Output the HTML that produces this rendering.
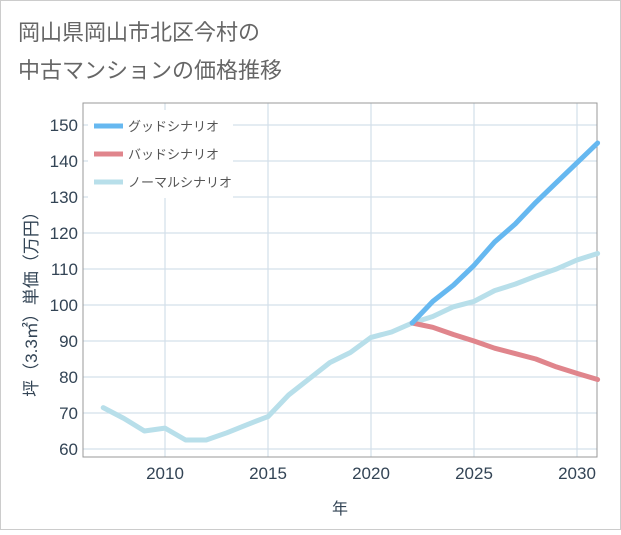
<!DOCTYPE html>
<html><head><meta charset="utf-8"><style>
body{margin:0;background:#fff;}
svg text{font-family:"Liberation Sans","Noto Sans CJK JP",sans-serif;}
</style></head><body>
<svg width="621" height="530" xmlns="http://www.w3.org/2000/svg">
<rect x="0.5" y="0.5" width="620" height="529" fill="#fff" stroke="#ccc"/>
<text x="18" y="40" font-size="22" fill="#666">岡山県岡山市北区今村の</text>
<text x="18" y="78" font-size="22" fill="#666">中古マンションの価格推移</text>
<g id="grid"></g>
<rect x="83" y="103" width="514" height="354" fill="none" stroke="#999"/>
<g id="axes"></g>
<g id="series"></g>
<rect x="88" y="110" width="145" height="88" fill="#fff"/>
<g>
<line x1="94" y1="126" x2="123" y2="126" stroke="#66b8f0" stroke-width="5"/>
<text x="128" y="131" font-size="13" fill="#555">グッドシナリオ</text>
<line x1="94" y1="154" x2="123" y2="154" stroke="#e0858c" stroke-width="5"/>
<text x="128" y="159" font-size="13" fill="#555">バッドシナリオ</text>
<line x1="94" y1="182" x2="123" y2="182" stroke="#b8dfea" stroke-width="5"/>
<text x="128" y="187" font-size="13" fill="#555">ノーマルシナリオ</text>
</g>
<text x="340" y="514" font-size="16" fill="#345" text-anchor="middle">年</text>
<text transform="translate(37,300) rotate(-90)" font-size="17" fill="#345" text-anchor="middle">坪（3.3㎡）単価（万円）</text>
</svg>
<script>
const normalYears=[2007,2008,2009,2010,2011,2012,2013,2014,2015,2016,2017,2018,2019,2020,2021,2022,2023,2024,2025,2026,2027,2028,2029,2030,2031];
const normalValues=[71.5,68.5,65,65.8,62.5,62.5,64.5,66.8,69,75,79.5,84,86.8,91,92.5,95,96.8,99.5,101,104,105.8,108,110,112.5,114.3];
const scenYears=[2022,2023,2024,2025,2026,2027,2028,2029,2030,2031];
const goodValues=[95,101,105.5,111,117.5,122.5,128.5,134,139.5,145];
const badValues=[95,93.8,91.8,90,88,86.5,85,82.8,81,79.3];
const xTicks=[2010,2015,2020,2025,2030];
const yTicks=[60,70,80,90,100,110,120,130,140,150];
const NS="http://www.w3.org/2000/svg";
const X=y=>165+(y-2010)*20.6;
const Y=v=>449-(v-60)*3.6;
const grid=document.getElementById('grid'),axes=document.getElementById('axes'),series=document.getElementById('series');
function mk(t,a,p){const e=document.createElementNS(NS,t);for(const k in a)e.setAttribute(k,a[k]);p.appendChild(e);return e;}
xTicks.forEach(t=>{
 const l=mk('line',{x1:X(t),x2:X(t),y1:103,y2:457,stroke:'#d3e0ea','stroke-width':1.2},grid);
 
 
 const tx=mk('text',{x:X(t),y:479,'font-size':17,fill:'#345','text-anchor':'middle'},axes);
 tx.textContent=t;
 
 
});
yTicks.forEach(t=>{
 const l=mk('line',{x1:83,x2:597,y1:Y(t),y2:Y(t),stroke:'#d3e0ea','stroke-width':1.2},grid);
 
 
 const tx=mk('text',{x:78,y:Y(t)+6,'font-size':17,fill:'#345','text-anchor':'end'},axes);
 tx.textContent=t;
 
 
});
function line(ys,vs,col,name){
 const p=mk('polyline',{points:ys.map((y,i)=>X(y)+','+Y(vs[i])).join(' '),fill:'none',stroke:col,'stroke-width':5,'stroke-linejoin':'round','stroke-linecap':'round'},series);
 
 
}
line(normalYears,normalValues,'#b8dfea','normal-line');
line(scenYears,badValues,'#e0858c','bad-line');
line(scenYears,goodValues,'#66b8f0','good-line');
</script>
</body></html>
